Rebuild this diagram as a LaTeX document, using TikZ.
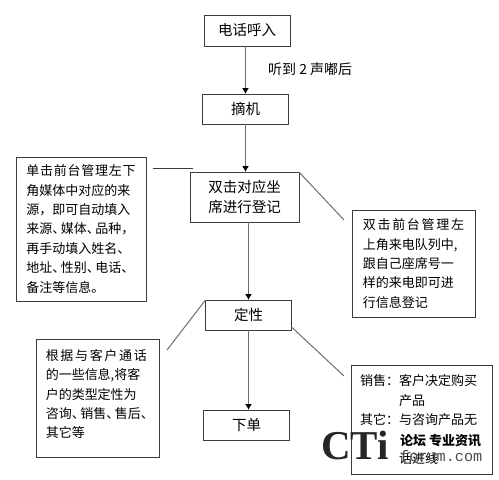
\documentclass[tikz,border=0pt]{standalone}
\usepackage{fontspec}
\setmainfont{Noto Sans CJK SC}
\newfontfamily\markserif{Liberation Serif}
\newfontfamily\markmono{Liberation Mono}
\usetikzlibrary{arrows.meta,positioning}
\definecolor{framegray}{HTML}{3C3C3C}
\definecolor{linegray}{HTML}{6E6E6E}
\newcommand{\pun}[1]{#1\kern-4.5pt}
\newcommand{\noteletter}[1]{\addfontfeature{LetterSpace=#1}}
\tikzset{
	box/.style={draw=framegray, line width=1pt, outer sep=0pt, inner sep=0pt, align=center, minimum height=30pt, minimum width=86pt, font=\fontsize{14.5}{20}\selectfont},
	note/.style={draw=framegray, line width=1pt, outer sep=0pt, inner sep=0pt, align=left, font=\fontsize{13}{19.4}\selectfont},
	flow/.style={-{Latex[length=6pt,width=7pt,color=black]}, draw=linegray, line width=1.2pt},
	tie/.style={draw=linegray, line width=1pt}
}
\begin{document}
\begin{tikzpicture}[x=1pt, y=-1pt, node distance=48pt]
	\useasboundingbox (0,0) rectangle (499,480);
	\node[box, minimum height=31pt] (call) at (247,30.5) {电话呼入};
	\node[box, below=of call, xshift=-1.5pt] (pickup) {摘机};
	\node[box, below=of pickup, xshift=-1pt, minimum width=109pt, minimum height=50pt] (register) {双击对应坐\\席进行登记};
	\node[box, below=78pt of register, xshift=4pt] (verdict) {定性};
	\node[box, below=80pt of verdict, xshift=-2pt] (order) {下单};
	\node[inner sep=0pt, font=\fontsize{14}{16}\selectfont, anchor=west] (beeps) at (268,69) {听到 2 声嘟后};
	% side notes
	\node[note, minimum width=130pt, minimum height=144pt] (sourcenote) at (81,229) {\noteletter{5.8}单击前台管理左下\\角媒体中对应的来\\源\pun{，}\kern4.5pt 即可自动填入\\来源\pun{、}媒体\pun{、}品种\pun{，}\\再手动填入姓名、\\地址\pun{、}性别\pun{、}电话\pun{、}\\备注等信息。};
	\node[note, minimum width=123pt, minimum height=107pt] (queuenote) at (413.5,263.5) {\noteletter{13}双击前台管理左\\上角来电队列中,\\跟自己座席号一\\样的来电即可进\\行信息登记};
	\node[note, minimum width=123pt, minimum height=118pt] (typenote) at (97.5,398) {\noteletter{13}根据与客户通话\\的一些信息,将客\\户的类型定性为\\{\noteletter{0}咨询\pun{、}销售\pun{、}售后\pun{、}}\\其它等\\[-10.4pt]\mbox{}};
	\node[note, minimum width=141pt, minimum height=109pt, text width=123pt] (salesnote) at (421.5,419.5) {销售：客户决定购买\\\phantom{销售：}产品\\其它：与咨询产品无\\\phantom{销售：}\\\phantom{销售：}话进线};
	% free ends of the ties
	\coordinate (sourceend) at (153,168);
	\coordinate (sourcetip) at (193,168);
	\coordinate (queueend) at (344,220);
	\coordinate (typeend) at (167,350);
	\coordinate (salesend) at (344,376);
	\draw[flow] (pickup.north |- call.south) -- (pickup.north);
	\draw[flow] (pickup.south) -- (pickup.south |- register.north);
	\draw[flow] (verdict.north |- register.south) -- (verdict.north);
	\draw[flow] (verdict.south) -- (verdict.south |- order.north);
	\draw[tie, draw=framegray] (sourceend) -- (sourcetip);
	\draw[tie] (register.north east) -- (queueend);
	\draw[tie] (verdict.north west) -- (typeend);
	\draw[tie] ([yshift=3pt]verdict.south east) -- (salesend);
	% site mark over the last note
	\node[inner sep=0pt, anchor=west, text=black!85, font=\markserif\bfseries\fontsize{41}{42}\selectfont] (markbig) at (321,445) {CTi};
	\node[inner sep=0pt, anchor=west, font=\bfseries\fontsize{13}{15}\selectfont] (marktop) at (400,441) {论坛 专业资讯};
	\node[inner sep=0pt, anchor=west, text=black!70, font=\markmono\fontsize{15.2}{16}\selectfont] (markbottom) at (400,456) {forum.com};
\end{tikzpicture}
\end{document}
